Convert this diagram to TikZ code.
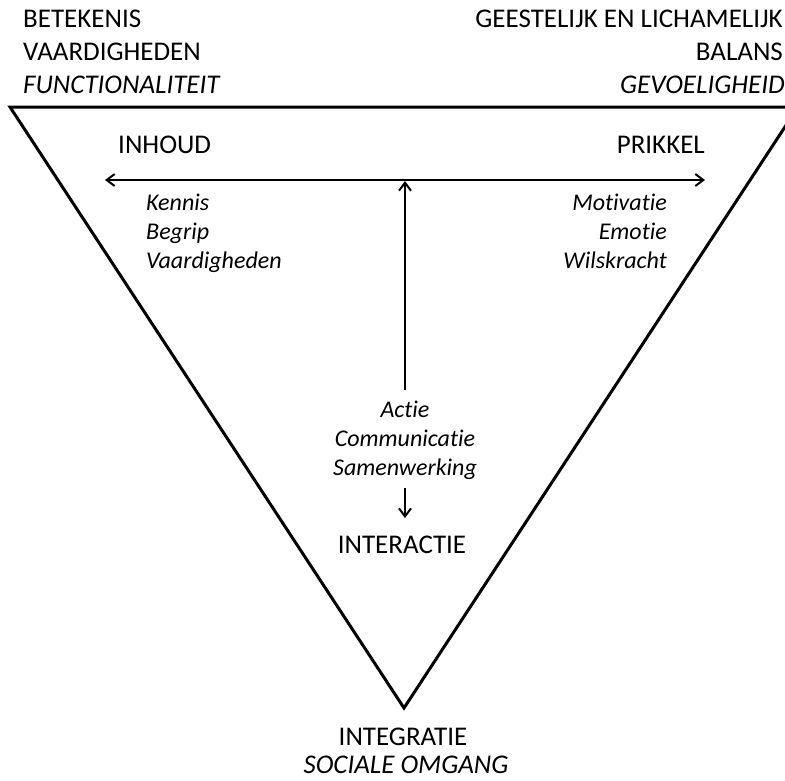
\documentclass[tikz,border=0pt]{standalone}
\usepackage{fontspec}
\setmainfont[RawFeature={-liga;-clig;-calt;-dlig}]{Carlito}
\usetikzlibrary{arrows.meta}

% keep "t" and "i" as separate glyphs
\newcommand{\tsep}{t\kern0pt i}

\tikzset{
  caps/.style={inner sep=0pt, font=\fontsize{27}{33}\selectfont},
  capsit/.style={caps, font=\fontsize{27}{33}\selectfont\itshape},
  small/.style={inner sep=0pt, font=\fontsize{24}{29}\selectfont\itshape},
  frame/.style={line width=3pt, line join=miter},
  link/.style={line width=2pt, -{Straight Barb[length=8pt,width=12pt,line width=2pt]}},
}

\begin{document}
\begin{tikzpicture}[x=1pt, y=-1pt]
\useasboundingbox (0,0) rectangle (785,780);
\clip (0,0) rectangle (785,780);

% inverted triangle
\coordinate (tl) at (10,107);
\coordinate (tr) at (798,107);
\coordinate (apex) at (404,708);
\draw[frame] (tl) -- (tr) -- (apex) -- cycle;

% top-left label
\node[caps, anchor=base west] (betekenis) at (23,27) {BETEKENIS};
\node[caps, anchor=base west] (vaardigheden) at (23,60) {VAARDIGHEDEN};
\node[capsit, anchor=base west] (functionaliteit) at (23,93) {FUNCTIONALITEIT};

% top-right label
\node[caps, anchor=base east] (geestelijk) at (783,27) {GEESTELIJK EN LICHAMELIJK};
\node[caps, anchor=base east] (balans) at (783,60) {BALANS};
\node[capsit, anchor=base east] (gevoeligheid) at (785,93) {GEVOELIGHEID};

% corner headings
\node[caps, anchor=base west] (inhoud) at (118,153) {INHOUD};
\node[caps, anchor=base east] (prikkel) at (705,153) {PRIKKEL};

% horizontal double arrow and vertical arrow
\coordinate (hl) at (105,180);
\coordinate (hr) at (705,180);
\coordinate (hm) at (405,181);
\coordinate (vb) at (405,390);
\draw[link, {Straight Barb[length=8pt,width=12pt,line width=2pt]}-{Straight Barb[length=8pt,width=12pt,line width=2pt]}] (hl) -- (hr);
\draw[link] (vb) -- (hm);

% left list
\node[small, anchor=base west] (kennis) at (146,210) {Kennis};
\node[small, anchor=base west] (begrip) at (146,239) {Begrip};
\node[small, anchor=base west] (vaardig) at (146,268) {Vaardigheden};

% right list
\node[small, anchor=base east] (motivatie) at (667,210) {Motiva\tsep e};
\node[small, anchor=base east] (emotie) at (667,239) {Emo\tsep e};
\node[small, anchor=base east] (wilskracht) at (667,268) {Wilskracht};

% centre list
\node[small, anchor=base] (actie) at (405,417) {Ac\tsep e};
\node[small, anchor=base] (communicatie) at (405,446) {Communica\tsep e};
\node[small, anchor=base] (samenwerking) at (405,475) {Samenwerking};

\coordinate (dtop) at (405,488);
\coordinate (dbot) at (405,518);
\draw[link, line width=1.6pt] (dtop) -- (dbot);

\node[caps, anchor=base] (interactie) at (402,553) {INTERACTIE};

% bottom label
\node[caps, anchor=base] (integratie) at (403,745) {INTEGRATIE};
\node[capsit, anchor=base] (sociale) at (406,773) {SOCIALE OMGANG};
\end{tikzpicture}
\end{document}
